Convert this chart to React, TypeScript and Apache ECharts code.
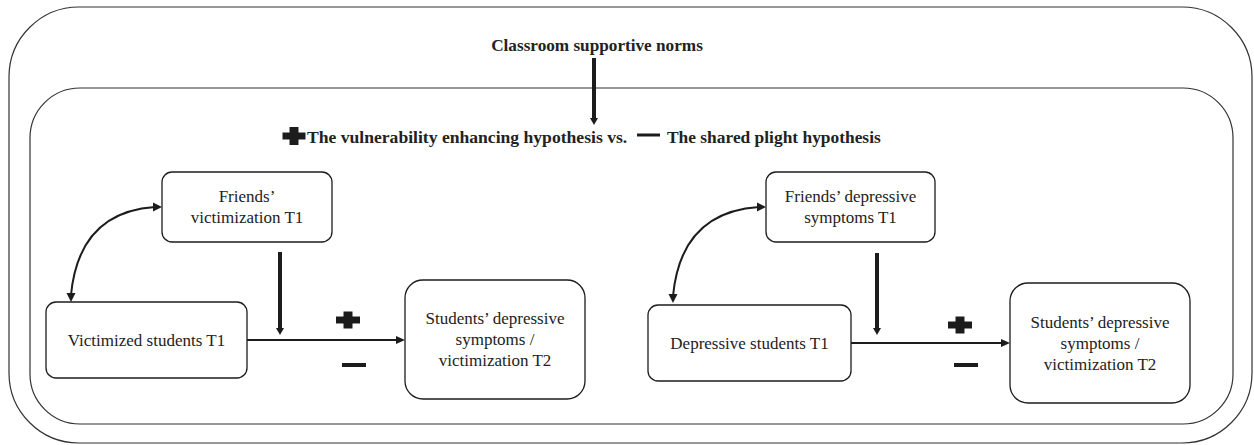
import React, { useEffect, useRef } from "react";
import * as echarts from "echarts";

// ---- content (texts of the diagram) ----
const titleText = "Classroom supportive norms";
const hypothesisLabels = ["The vulnerability enhancing hypothesis vs.", "The shared plight hypothesis"];
const moderatorLabels = ["Friends’\nvictimization T1", "Friends’ depressive\nsymptoms T1"];
const predictorLabels = ["Victimized students T1", "Depressive students T1"];
const outcomeLabels = [
  "Students’ depressive\nsymptoms /\nvictimization T2",
  "Students’ depressive\nsymptoms /\nvictimization T2",
];

// ---- layout (positions / sizes) ----
const panels = [
  {
    mod: [162, 172, 170, 70],
    pred: [46, 302, 201, 76],
    out: [405, 280, 180, 119],
    vx: 280, vy: [252, 335],
    plus: [348, 320], minus: [354, 365],
    curve: { s: [71, 302], e: [162, 207], c: [79, 212] },
  },
  {
    mod: [766, 172, 169, 70],
    pred: [648, 305, 203, 76],
    out: [1010, 283, 180, 120],
    vx: 877, vy: [253, 335],
    plus: [960, 325], minus: [966, 365],
    curve: { s: [673, 303], e: [766, 207], c: [681, 212] },
  },
];

const INK = "#1c1c1c";
const TXT = "#222";
const FONT = "Liberation Serif";

function box(r: number[], rad: number, label: string): any[] {
  return [
    {
      type: "rect",
      shape: { x: r[0], y: r[1], width: r[2], height: r[3], r: rad },
      style: { fill: "#fff", stroke: INK, lineWidth: 1.3 },
    },
    {
      type: "text",
      style: {
        text: label,
        x: r[0] + r[2] / 2,
        y: r[1] + r[3] / 2,
        align: "center",
        verticalAlign: "middle",
        fontSize: 17,
        lineHeight: 21,
        fontFamily: FONT,
        fill: TXT,
      },
    },
  ];
}

function vArrow(x: number, y1: number, y2: number, w: number): any[] {
  return [
    { type: "line", shape: { x1: x, y1, x2: x, y2: y2 - 6 }, style: { stroke: INK, lineWidth: w } },
    {
      type: "polygon",
      shape: { points: [[x - 4, y2 - 7], [x + 4, y2 - 7], [x, y2]] },
      style: { fill: INK },
    },
  ];
}

function hArrow(x1: number, x2: number, y: number): any[] {
  return [
    { type: "line", shape: { x1, y1: y, x2: x2 - 6, y2: y }, style: { stroke: INK, lineWidth: 2 } },
    {
      type: "polygon",
      shape: { points: [[x2 - 9, y - 4], [x2 - 9, y + 4], [x2, y]] },
      style: { fill: INK },
    },
  ];
}

function plus(cx: number, cy: number, w: number, h: number): any[] {
  return [
    { type: "rect", shape: { x: cx - w / 2, y: cy - 3.5, width: w, height: 7 }, style: { fill: INK } },
    { type: "rect", shape: { x: cx - 4.5, y: cy - h / 2, width: 9, height: h }, style: { fill: INK } },
  ];
}

function minus(cx: number, cy: number, w: number, t: number): any[] {
  return [{ type: "rect", shape: { x: cx - w / 2, y: cy - t / 2, width: w, height: t }, style: { fill: INK } }];
}

function curveArrow(c: any): any[] {
  const [sx, sy] = c.s;
  const [ex, ey] = c.e;
  return [
    {
      type: "bezierCurve",
      shape: { x1: sx, y1: sy - 7, x2: ex - 7, y2: ey, cpx1: c.c[0], cpy1: c.c[1] },
      style: { stroke: INK, lineWidth: 2, fill: "none" },
    },
    {
      type: "polygon",
      shape: { points: [[sx - 4.5, sy - 9], [sx + 4.5, sy - 9], [sx, sy]] },
      style: { fill: INK },
    },
    {
      type: "polygon",
      shape: { points: [[ex - 9, ey - 4.5], [ex - 9, ey + 4.5], [ex, ey]] },
      style: { fill: INK },
    },
  ];
}

export default function App() {
  const ref = useRef<HTMLDivElement>(null);
  useEffect(() => {
    if (!ref.current) return;
    const chart = echarts.init(ref.current, null, { renderer: "svg" });
    const els: any[] = [];
    // frames
    els.push({
      type: "rect",
      shape: { x: 9, y: 7, width: 1243, height: 436, r: 70 },
      style: { fill: "none", stroke: "#333", lineWidth: 1.2 },
    });
    els.push({
      type: "rect",
      shape: { x: 30, y: 88, width: 1203, height: 336, r: 50 },
      style: { fill: "none", stroke: "#333", lineWidth: 1.2 },
    });
    // title + top arrow
    els.push({
      type: "text",
      style: {
        text: titleText, x: 597, y: 45, align: "center", verticalAlign: "middle",
        fontSize: 17.2, fontWeight: "bold", fontFamily: FONT, fill: TXT,
      },
    });
    els.push(...vArrow(594, 58, 125, 4));
    // hypothesis line
    els.push(...plus(294, 136, 23, 18));
    els.push({
      type: "text",
      style: {
        text: hypothesisLabels[0], x: 307, y: 137, align: "left", verticalAlign: "middle",
        fontSize: 17.6, fontWeight: "bold", fontFamily: FONT, fill: TXT,
      },
    });
    els.push(...minus(648.5, 135, 23, 3));
    els.push({
      type: "text",
      style: {
        text: hypothesisLabels[1], x: 667, y: 137, align: "left", verticalAlign: "middle",
        fontSize: 17.4, fontWeight: "bold", fontFamily: FONT, fill: TXT,
      },
    });
    panels.forEach((p, i) => {
      els.push(...box(p.mod, 10, moderatorLabels[i]));
      els.push(...box(p.pred, 10, predictorLabels[i]));
      els.push(...box(p.out, 18, outcomeLabels[i]));
      els.push(...vArrow(p.vx, p.vy[0], p.vy[1], 4));
      const py = p.pred[1] + p.pred[3] / 2;
      els.push(...hArrow(p.pred[0] + p.pred[2], p.out[0], py));
      els.push(...plus(p.plus[0], p.plus[1], 24, 17));
      els.push(...minus(p.minus[0], p.minus[1], 24, 4));
      els.push(...curveArrow(p.curve));
    });
    chart.setOption({ animation: false, graphic: { elements: els } });
    return () => chart.dispose();
  }, []);
  return (
    <div
      ref={ref}
      style={{ position: "fixed", left: 0, top: 0, width: 1254, height: 445, background: "#fff" }}
    />
  );
}
